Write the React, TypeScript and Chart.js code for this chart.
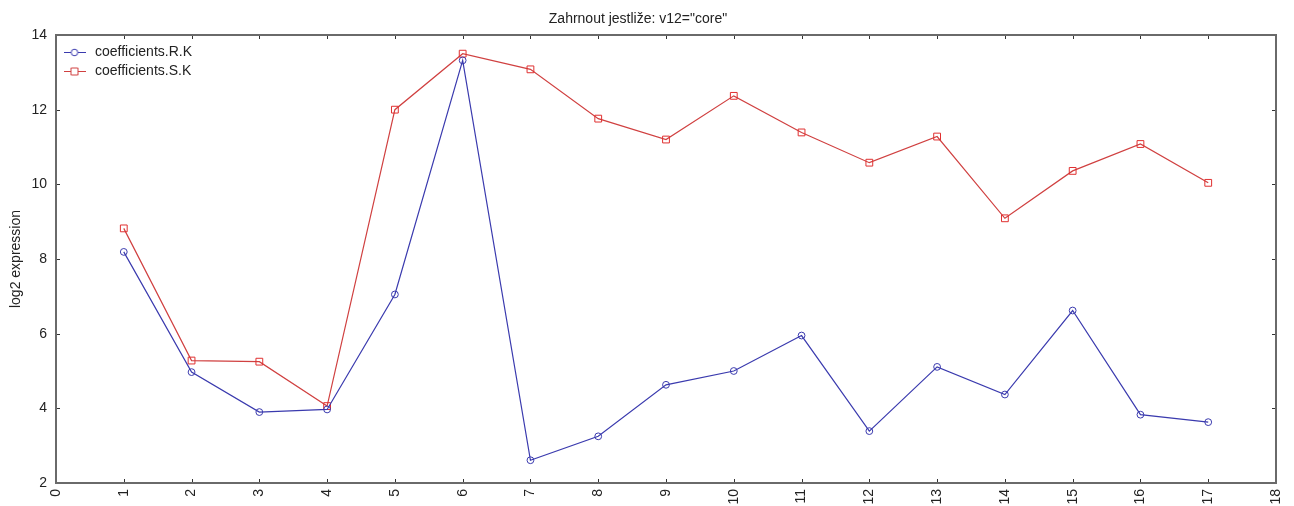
import { useEffect, useRef } from 'react';
import { Chart, registerables } from 'chart.js';

Chart.register(...registerables);

const titleText = 'Zahrnout jestliže: v12="core"';
const yAxisTitle = 'log2 expression';
const seriesNames = ['coefficients.R.K', 'coefficients.S.K'];
const xValues = [1, 2, 3, 4, 5, 6, 7, 8, 9, 10, 11, 12, 13, 14, 15, 16, 17];
const seriesRK = [8.19, 4.97, 3.9, 3.97, 7.05, 13.32, 2.61, 3.25, 4.63, 5.0, 5.95, 3.39, 5.11, 4.37, 6.62, 3.83, 3.63];
const seriesSK = [8.82, 5.28, 5.25, 4.06, 12.0, 13.5, 13.08, 11.76, 11.2, 12.37, 11.39, 10.58, 11.28, 9.09, 10.36, 11.08, 10.04];
const xTicks = [0, 1, 2, 3, 4, 5, 6, 7, 8, 9, 10, 11, 12, 13, 14, 15, 16, 17, 18];
const yTicks = [2, 4, 6, 8, 10, 12, 14];

const BLUE = '#3a3aae';
const RED = '#d04040';
const FRAME = '#6a6a6a';
const FONT = 'Arial, "Liberation Sans", sans-serif';

function makeIcon(color: string, kind: 'circle' | 'rect'): HTMLCanvasElement {
  const c = document.createElement('canvas');
  c.width = 22;
  c.height = 10;
  const ctx = c.getContext('2d')!;
  ctx.strokeStyle = color;
  ctx.lineWidth = 1;
  ctx.beginPath();
  ctx.moveTo(0, 5.5);
  ctx.lineTo(22, 5.5);
  ctx.stroke();
  ctx.fillStyle = '#ffffff';
  ctx.beginPath();
  if (kind === 'circle') {
    ctx.arc(11, 5.5, 3.3, 0, Math.PI * 2);
  } else {
    ctx.rect(7.5, 2, 7, 7);
  }
  ctx.fill();
  ctx.stroke();
  return c;
}

const framePlugin = {
  id: 'frameTicks',
  beforeDatasetsDraw(chart: any) {
    const { ctx, chartArea } = chart;
    const { left, right, top, bottom } = chartArea;
    const xs = chart.scales.x;
    const ys = chart.scales.y;
    ctx.save();
    ctx.strokeStyle = '#333';
    ctx.lineWidth = 1;
    const tl = 4;
    ctx.beginPath();
    xTicks.forEach((v) => {
      const px = Math.round(xs.getPixelForValue(v)) + 0.5;
      ctx.moveTo(px, bottom);
      ctx.lineTo(px, bottom - tl);
      ctx.moveTo(px, top);
      ctx.lineTo(px, top + tl);
    });
    yTicks.forEach((v) => {
      const py = Math.round(ys.getPixelForValue(v)) + 0.5;
      ctx.moveTo(left, py);
      ctx.lineTo(left + tl, py);
      ctx.moveTo(right, py);
      ctx.lineTo(right - tl, py);
    });
    ctx.stroke();
    ctx.strokeStyle = FRAME;
    ctx.lineWidth = 2;
    ctx.strokeRect(left, top, right - left, bottom - top);
    ctx.restore();
  },
};

export default function App() {
  const ref = useRef<HTMLCanvasElement | null>(null);

  useEffect(() => {
    if (!ref.current) return;
    const icons = [makeIcon(BLUE, 'circle'), makeIcon(RED, 'rect')];
    const chart = new Chart(ref.current, {
      type: 'line',
      data: {
        datasets: [
          {
            label: seriesNames[0],
            data: xValues.map((x, i) => ({ x, y: seriesRK[i] })),
            borderColor: BLUE,
            backgroundColor: '#ffffff',
            borderWidth: 1.2,
            pointStyle: 'circle',
            pointRadius: 3.4,
            pointBorderWidth: 1,
            pointBorderColor: BLUE,
            pointBackgroundColor: 'rgba(255,255,255,0)',
            tension: 0,
          },
          {
            label: seriesNames[1],
            data: xValues.map((x, i) => ({ x, y: seriesSK[i] })),
            borderColor: RED,
            backgroundColor: '#ffffff',
            borderWidth: 1.2,
            pointStyle: 'rect',
            pointRadius: 4.8,
            pointBorderWidth: 1,
            pointBorderColor: '#e03030',
            pointBackgroundColor: 'rgba(255,255,255,0)',
            tension: 0,
          },
        ],
      },
      options: {
        animation: false,
        responsive: false,
        events: [],
        layout: { padding: { left: 0, right: 18, top: 0, bottom: 0 } },
        font: { family: FONT },
        plugins: {
          title: {
            display: true,
            text: titleText,
            color: '#222',
            font: { family: FONT, size: 14, weight: 'normal', lineHeight: 1.2 },
            padding: { top: 11, bottom: 7.2 },
          },
          tooltip: { enabled: false },
          legend: {
            display: true,
            position: 'chartArea',
            align: 'start',
            title: { display: true, text: '', padding: { top: 35, bottom: 0 }, font: { size: 5, lineHeight: 1 } },
            labels: {
              usePointStyle: true,
              pointStyleWidth: 27,
              padding: 5,
              color: '#222',
              font: { family: FONT, size: 14 },
              generateLabels: (c: any) => {
                const items = (Chart.defaults.plugins.legend.labels as any).generateLabels(c);
                return items.map((it: any, i: number) => ({ ...it, pointStyle: icons[i] }));
              },
            },
          },
        },
        scales: {
          x: {
            type: 'linear',
            min: 0,
            max: 18,
            afterBuildTicks: (s: any) => {
              s.ticks = xTicks.map((v) => ({ value: v }));
            },
            afterFit: (s: any) => {
              s.height = 23;
              s.paddingLeft = 0;
              s.paddingRight = 0;
            },
            grid: { display: false, drawTicks: false },
            border: { display: false },
            ticks: {
              autoSkip: false,
              maxRotation: 90,
              minRotation: 90,
              padding: 6,
              color: '#222',
              font: { family: FONT, size: 14 },
            },
          },
          y: {
            type: 'linear',
            min: 2,
            max: 14,
            afterBuildTicks: (s: any) => {
              s.ticks = yTicks.map((v) => ({ value: v }));
            },
            afterFit: (s: any) => {
              s.width = 56;
            },
            grid: { display: false, drawTicks: false },
            border: { display: false },
            title: {
              display: true,
              text: yAxisTitle,
              color: '#222',
              font: { family: FONT, size: 14, lineHeight: 1.2 },
              padding: { top: 8, bottom: 0 },
            },
            ticks: {
              padding: 9,
              color: '#222',
              font: { family: FONT, size: 14 },
            },
          },
        },
      },
      plugins: [framePlugin],
    } as any);
    return () => chart.destroy();
  }, []);

  return (
    <div style={{ position: 'fixed', left: 0, top: 0, width: 1294, height: 506, background: '#fff' }}>
      <canvas ref={ref} width={1294} height={506} style={{ display: 'block', width: 1294, height: 506 }} />
    </div>
  );
}
